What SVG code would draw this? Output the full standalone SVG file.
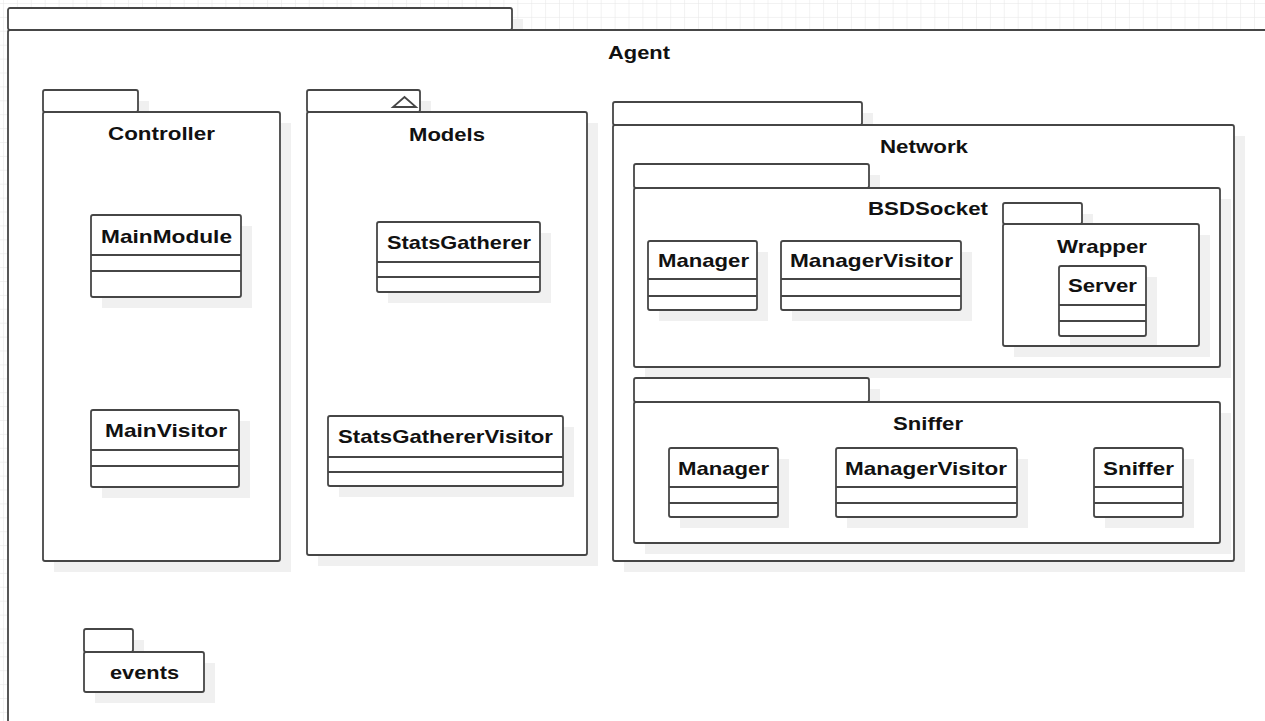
<svg xmlns="http://www.w3.org/2000/svg" width="1265" height="721" viewBox="0 0 1265 721">
  <defs>
    <pattern id="grid" x="3" y="3" width="13.9" height="13.9" patternUnits="userSpaceOnUse">
      <path d="M13.9 0H0V13.9" fill="none" stroke="#e6e6e6" stroke-width="1"/>
    </pattern>
  </defs>
  <style>
    .sh { fill: #f0f0f0; stroke: none; }
    .pk { fill: #ffffff; stroke: #464646; stroke-width: 1.8; }
    .cl { fill: #ffffff; stroke: #464646; stroke-width: 1.8; }
    .sep { stroke: #464646; stroke-width: 1.8; fill: none; }
    .lbl { font-family: "Liberation Sans", Arial, Helvetica, sans-serif; font-weight: bold; font-size: 19px; fill: #111111; text-anchor: middle; }
  </style>

  <!-- canvas grid -->
  <rect x="0" y="0" width="1265" height="721" fill="#ffffff"/>
  <rect x="0" y="0" width="1265" height="721" fill="url(#grid)"/>

  <!-- Agent (outer package) -->
  <g id="pkg-agent">
    <rect class="sh" x="19" y="19" width="504" height="22"/>
    <rect class="pk" x="8" y="8" width="504" height="22" rx="2"/>
    <rect class="pk" x="8" y="30" width="1280" height="720" rx="2"/>
    <text class="lbl" x="639" y="59" textLength="62" lengthAdjust="spacingAndGlyphs">Agent</text>
  </g>

  <!-- Controller package -->
  <g id="pkg-controller">
    <rect class="sh" x="54" y="101" width="95" height="22"/>
    <rect class="sh" x="54" y="123" width="237" height="449"/>
    <rect class="pk" x="43" y="90" width="95" height="22" rx="2"/>
    <rect class="pk" x="43" y="112" width="237" height="449" rx="2"/>
    <text class="lbl" x="161.5" y="140" textLength="107" lengthAdjust="spacingAndGlyphs">Controller</text>
  </g>
  <g id="cls-mainmodule">
    <rect class="sh" x="102" y="226" width="150" height="82"/>
    <rect class="cl" x="91" y="215" width="150" height="82" rx="2"/>
    <path class="sep" d="M91 255H241M91 271H241"/>
    <text class="lbl" x="166.5" y="243" textLength="131" lengthAdjust="spacingAndGlyphs">MainModule</text>
  </g>
  <g id="cls-mainvisitor">
    <rect class="sh" x="102" y="421" width="148" height="77"/>
    <rect class="cl" x="91" y="410" width="148" height="77" rx="2"/>
    <path class="sep" d="M91 450H239M91 466H239"/>
    <text class="lbl" x="166" y="437" textLength="122" lengthAdjust="spacingAndGlyphs">MainVisitor</text>
  </g>

  <!-- Models package -->
  <g id="pkg-models">
    <rect class="sh" x="318" y="101" width="113" height="22"/>
    <rect class="sh" x="318" y="123" width="280" height="443"/>
    <rect class="pk" x="307" y="90" width="113" height="22" rx="2"/>
    <path class="pk" d="M393 107H416L404.5 97Z" stroke-width="1.5"/>
    <rect class="pk" x="307" y="112" width="280" height="443" rx="2"/>
    <text class="lbl" x="447" y="141" textLength="76" lengthAdjust="spacingAndGlyphs">Models</text>
  </g>
  <g id="cls-statsgatherer">
    <rect class="sh" x="388" y="233" width="163" height="70"/>
    <rect class="cl" x="377" y="222" width="163" height="70" rx="2"/>
    <path class="sep" d="M377 262H540M377 277H540"/>
    <text class="lbl" x="459" y="249" textLength="144" lengthAdjust="spacingAndGlyphs">StatsGatherer</text>
  </g>
  <g id="cls-statsgatherervisitor">
    <rect class="sh" x="339" y="427" width="235" height="70"/>
    <rect class="cl" x="328" y="416" width="235" height="70" rx="2"/>
    <path class="sep" d="M328 457H563M328 472H563"/>
    <text class="lbl" x="445.5" y="443" textLength="215" lengthAdjust="spacingAndGlyphs">StatsGathererVisitor</text>
  </g>

  <!-- Network package -->
  <g id="pkg-network">
    <rect class="sh" x="624" y="113" width="249" height="23"/>
    <rect class="sh" x="624" y="136" width="621" height="436"/>
    <rect class="pk" x="613" y="102" width="249" height="23" rx="2"/>
    <rect class="pk" x="613" y="125" width="621" height="436" rx="2"/>
    <text class="lbl" x="924" y="153" textLength="88" lengthAdjust="spacingAndGlyphs">Network</text>
  </g>

  <!-- Network::BSDSocket package -->
  <g id="pkg-bsdsocket">
    <rect class="sh" x="645" y="175" width="235" height="24"/>
    <rect class="sh" x="645" y="199" width="586" height="179"/>
    <rect class="pk" x="634" y="164" width="235" height="24" rx="2"/>
    <rect class="pk" x="634" y="188" width="586" height="179" rx="2"/>
    <text class="lbl" x="928" y="215" textLength="120" lengthAdjust="spacingAndGlyphs">BSDSocket</text>
  </g>
  <g id="cls-bsd-manager">
    <rect class="sh" x="659" y="252" width="109" height="69"/>
    <rect class="cl" x="648" y="241" width="109" height="69" rx="2"/>
    <path class="sep" d="M648 279H757M648 296H757"/>
    <text class="lbl" x="703.5" y="267" textLength="91" lengthAdjust="spacingAndGlyphs">Manager</text>
  </g>
  <g id="cls-bsd-managervisitor">
    <rect class="sh" x="792" y="252" width="180" height="69"/>
    <rect class="cl" x="781" y="241" width="180" height="69" rx="2"/>
    <path class="sep" d="M781 279H961M781 296H961"/>
    <text class="lbl" x="871.5" y="267" textLength="163" lengthAdjust="spacingAndGlyphs">ManagerVisitor</text>
  </g>

  <!-- Network::BSDSocket::Wrapper package -->
  <g id="pkg-wrapper">
    <rect class="sh" x="1014" y="214" width="79" height="21"/>
    <rect class="sh" x="1014" y="235" width="196" height="122"/>
    <rect class="pk" x="1003" y="203" width="79" height="21" rx="2"/>
    <rect class="pk" x="1003" y="224" width="196" height="122" rx="2"/>
    <text class="lbl" x="1102" y="253" textLength="90" lengthAdjust="spacingAndGlyphs">Wrapper</text>
  </g>
  <g id="cls-server">
    <rect class="sh" x="1070" y="277" width="87" height="68"/>
    <rect class="cl" x="1059" y="266" width="87" height="70" rx="2"/>
    <path class="sep" d="M1059 305H1146M1059 321H1146"/>
    <text class="lbl" x="1102.5" y="292" textLength="69" lengthAdjust="spacingAndGlyphs">Server</text>
  </g>

  <!-- Network::Sniffer package -->
  <g id="pkg-sniffer">
    <rect class="sh" x="645" y="389" width="235" height="24"/>
    <rect class="sh" x="645" y="413" width="586" height="141"/>
    <rect class="pk" x="634" y="378" width="235" height="24" rx="2"/>
    <rect class="pk" x="634" y="402" width="586" height="141" rx="2"/>
    <text class="lbl" x="928" y="430" textLength="70" lengthAdjust="spacingAndGlyphs">Sniffer</text>
  </g>
  <g id="cls-sniffer-manager">
    <rect class="sh" x="680" y="459" width="109" height="69"/>
    <rect class="cl" x="669" y="448" width="109" height="69" rx="2"/>
    <path class="sep" d="M669 487H778M669 503H778"/>
    <text class="lbl" x="723.5" y="475" textLength="91" lengthAdjust="spacingAndGlyphs">Manager</text>
  </g>
  <g id="cls-sniffer-managervisitor">
    <rect class="sh" x="847" y="459" width="181" height="69"/>
    <rect class="cl" x="836" y="448" width="181" height="69" rx="2"/>
    <path class="sep" d="M836 487H1017M836 503H1017"/>
    <text class="lbl" x="926" y="475" textLength="162" lengthAdjust="spacingAndGlyphs">ManagerVisitor</text>
  </g>
  <g id="cls-sniffer-sniffer">
    <rect class="sh" x="1105" y="459" width="89" height="69"/>
    <rect class="cl" x="1094" y="448" width="89" height="69" rx="2"/>
    <path class="sep" d="M1094 487H1183M1094 503H1183"/>
    <text class="lbl" x="1138.5" y="475" textLength="71" lengthAdjust="spacingAndGlyphs">Sniffer</text>
  </g>

  <!-- events package -->
  <g id="pkg-events">
    <rect class="sh" x="95" y="640" width="49" height="23"/>
    <rect class="sh" x="95" y="663" width="120" height="40"/>
    <rect class="pk" x="84" y="629" width="49" height="23" rx="2"/>
    <rect class="pk" x="84" y="652" width="120" height="40" rx="2"/>
    <text class="lbl" x="144.5" y="679" textLength="69" lengthAdjust="spacingAndGlyphs">events</text>
  </g>

  <!-- no dependency or association lines between elements -->
  <g id="connectors"/>
</svg>
